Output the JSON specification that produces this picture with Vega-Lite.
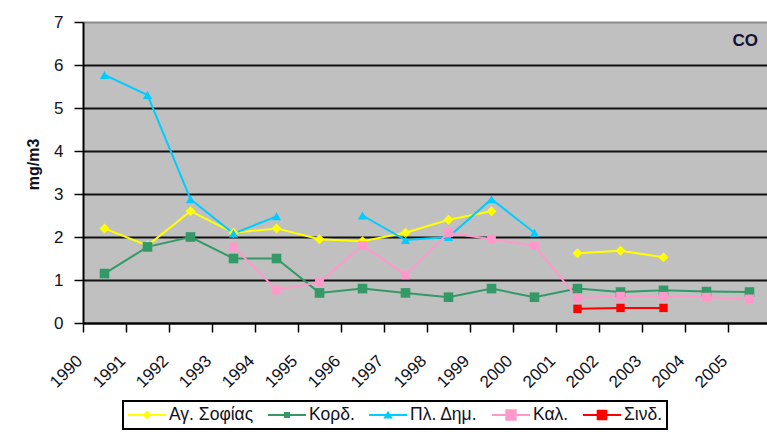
{
  "$schema": "https://vega.github.io/schema/vega-lite/v6.json",
  "width": 688,
  "height": 301,
  "autosize": {"type": "none"},
  "padding": {"left": 83, "top": 22, "right": 0, "bottom": 110},
  "background": "#ffffff",
  "title": {
    "text": "CO",
    "anchor": "end",
    "frame": "group",
    "orient": "top",
    "offset": -37,
    "dx": -13,
    "font": "Liberation Sans",
    "fontSize": 17,
    "fontWeight": "bold",
    "color": "#111133"
  },
  "data": {
    "values": [
      {"year": "1990", "station": "Αγ. Σοφίας", "v": 2.2},
      {"year": "1991", "station": "Αγ. Σοφίας", "v": 1.8},
      {"year": "1992", "station": "Αγ. Σοφίας", "v": 2.6},
      {"year": "1993", "station": "Αγ. Σοφίας", "v": 2.1},
      {"year": "1994", "station": "Αγ. Σοφίας", "v": 2.2},
      {"year": "1995", "station": "Αγ. Σοφίας", "v": 1.95},
      {"year": "1996", "station": "Αγ. Σοφίας", "v": 1.9},
      {"year": "1997", "station": "Αγ. Σοφίας", "v": 2.1},
      {"year": "1998", "station": "Αγ. Σοφίας", "v": 2.4},
      {"year": "1999", "station": "Αγ. Σοφίας", "v": 2.6},
      {"year": "2000", "station": "Αγ. Σοφίας", "v": null},
      {"year": "2001", "station": "Αγ. Σοφίας", "v": 1.62},
      {"year": "2002", "station": "Αγ. Σοφίας", "v": 1.68},
      {"year": "2003", "station": "Αγ. Σοφίας", "v": 1.53},
      {"year": "1990", "station": "Κορδ.", "v": 1.15},
      {"year": "1991", "station": "Κορδ.", "v": 1.77},
      {"year": "1992", "station": "Κορδ.", "v": 2.0},
      {"year": "1993", "station": "Κορδ.", "v": 1.5},
      {"year": "1994", "station": "Κορδ.", "v": 1.5},
      {"year": "1995", "station": "Κορδ.", "v": 0.7},
      {"year": "1996", "station": "Κορδ.", "v": 0.8},
      {"year": "1997", "station": "Κορδ.", "v": 0.7},
      {"year": "1998", "station": "Κορδ.", "v": 0.6},
      {"year": "1999", "station": "Κορδ.", "v": 0.8},
      {"year": "2000", "station": "Κορδ.", "v": 0.6},
      {"year": "2001", "station": "Κορδ.", "v": 0.8},
      {"year": "2002", "station": "Κορδ.", "v": 0.72},
      {"year": "2003", "station": "Κορδ.", "v": 0.76},
      {"year": "2004", "station": "Κορδ.", "v": 0.73},
      {"year": "2005", "station": "Κορδ.", "v": 0.72},
      {"year": "1990", "station": "Πλ. Δημ.", "v": 5.77},
      {"year": "1991", "station": "Πλ. Δημ.", "v": 5.3},
      {"year": "1992", "station": "Πλ. Δημ.", "v": 2.88},
      {"year": "1993", "station": "Πλ. Δημ.", "v": 2.08},
      {"year": "1994", "station": "Πλ. Δημ.", "v": 2.48},
      {"year": "1995", "station": "Πλ. Δημ.", "v": null},
      {"year": "1996", "station": "Πλ. Δημ.", "v": 2.5},
      {"year": "1997", "station": "Πλ. Δημ.", "v": 1.93},
      {"year": "1998", "station": "Πλ. Δημ.", "v": 2.0},
      {"year": "1999", "station": "Πλ. Δημ.", "v": 2.88},
      {"year": "2000", "station": "Πλ. Δημ.", "v": 2.1},
      {"year": "1993", "station": "Καλ.", "v": 1.77},
      {"year": "1994", "station": "Καλ.", "v": 0.77},
      {"year": "1995", "station": "Καλ.", "v": 0.95},
      {"year": "1996", "station": "Καλ.", "v": 1.8},
      {"year": "1997", "station": "Καλ.", "v": 1.12},
      {"year": "1998", "station": "Καλ.", "v": 2.1},
      {"year": "1999", "station": "Καλ.", "v": 1.95},
      {"year": "2000", "station": "Καλ.", "v": 1.8},
      {"year": "2001", "station": "Καλ.", "v": 0.58},
      {"year": "2002", "station": "Καλ.", "v": 0.62},
      {"year": "2003", "station": "Καλ.", "v": 0.62},
      {"year": "2004", "station": "Καλ.", "v": 0.6},
      {"year": "2005", "station": "Καλ.", "v": 0.56},
      {"year": "2001", "station": "Σινδ.", "v": 0.33},
      {"year": "2002", "station": "Σινδ.", "v": 0.35},
      {"year": "2003", "station": "Σινδ.", "v": 0.35}
    ]
  },
  "encoding": {
    "x": {
      "field": "year",
      "type": "ordinal",
      "bandPosition": 0.5,
      "scale": {"type": "band", "paddingInner": 0, "paddingOuter": 0},
      "axis": {
        "title": null,
        "labelAngle": -45,
        "labelAlign": "right",
        "labelBaseline": "middle",
        "labelOffset": -25,
        "labelPadding": 26,
        "labelFont": "Liberation Sans",
        "labelFontSize": 17,
        "labelColor": "#111122",
        "tickBand": "extent",
        "tickColor": "#000000",
        "tickWidth": 1.5,
        "tickSize": 9,
        "domainColor": "#000000",
        "domainWidth": 2,
        "grid": false
      }
    },
    "y": {
      "field": "v",
      "type": "quantitative",
      "scale": {"domain": [0, 7], "nice": false},
      "axis": {
        "title": "mg/m3",
        "titleFont": "Liberation Sans",
        "titleFontSize": 16,
        "titleFontWeight": "bold",
        "titleColor": "#111122",
        "titlePadding": 12,
        "titleY": 142,
        "values": [0, 1, 2, 3, 4, 5, 6, 7],
        "labelFont": "Liberation Sans",
        "labelFontSize": 17,
        "labelColor": "#111122",
        "labelPadding": 11,
        "tickColor": "#000000",
        "tickWidth": 1.5,
        "tickSize": 9,
        "domainColor": "#000000",
        "domainWidth": 2,
        "grid": true,
        "gridColor": {"condition": {"test": "datum.value === 7", "value": "#8a8a8a"}, "value": "#111111"},
        "gridWidth": 2
      }
    }
  },
  "layer": [
    {
      "mark": {"type": "line", "strokeWidth": 2, "invalid": "break-paths-filter-domains"},
      "encoding": {
        "color": {
          "field": "station",
          "type": "nominal",
          "scale": {
            "domain": ["Αγ. Σοφίας", "Κορδ.", "Πλ. Δημ.", "Καλ.", "Σινδ."],
            "range": ["#ffff00", "#339966", "#00ccff", "#ff99cc", "#ff0000"]
          },
          "legend": null
        }
      }
    },
    {
      "mark": {"type": "point", "filled": true, "opacity": 1},
      "encoding": {
        "color": {
          "field": "station",
          "type": "nominal",
          "scale": {
            "domain": ["Αγ. Σοφίας", "Κορδ.", "Πλ. Δημ.", "Καλ.", "Σινδ."],
            "range": ["#ffff00", "#339966", "#00ccff", "#ff99cc", "#ff0000"]
          },
          "legend": null
        },
        "shape": {
          "field": "station",
          "type": "nominal",
          "scale": {
            "domain": ["Αγ. Σοφίας", "Κορδ.", "Πλ. Δημ.", "Καλ.", "Σινδ."],
            "range": ["diamond", "square", "triangle-up", "square", "square"]
          },
          "legend": null
        },
        "size": {
          "field": "station",
          "type": "nominal",
          "scale": {
            "domain": ["Αγ. Σοφίας", "Κορδ.", "Πλ. Δημ.", "Καλ.", "Σινδ."],
            "range": [100, 70, 100, 200, 180]
          },
          "legend": null
        }
      }
    },
    {
      "transform": [{"filter": "false"}],
      "mark": {"type": "point", "filled": true, "opacity": 1},
      "encoding": {
        "color": {
          "field": "station",
          "type": "nominal",
          "scale": {
            "domain": ["Αγ. Σοφίας", "Κορδ.", "Πλ. Δημ.", "Καλ.", "Σινδ."],
            "range": ["#ffff00", "#339966", "#00ccff", "#ff99cc", "#ff0000"]
          },
          "legend": {
            "title": null,
            "orient": "none",
            "legendX": 40,
            "legendY": 379,
            "direction": "horizontal",
            "symbolSize": 1444,
            "symbolOpacity": 1,
            "clipHeight": 20,
            "labelFont": "Liberation Sans",
            "labelFontSize": 17.5,
            "labelColor": "#111122",
            "labelOffset": 2,
            "columnPadding": 13,
            "padding": 4,
            "strokeColor": "#000000"
          }
        },
        "shape": {
          "field": "station",
          "type": "nominal",
          "scale": {
            "domain": ["Αγ. Σοφίας", "Κορδ.", "Πλ. Δημ.", "Καλ.", "Σινδ."],
            "range": [
              "M-1,-0.05H1V0.05H-1Z M0,-0.24L0.22,0L0,0.24L-0.22,0Z",
              "M-1,-0.05H1V0.05H-1Z M-0.16,-0.16H0.16V0.16H-0.16Z",
              "M-1,-0.05H1V0.05H-1Z M0,-0.22L0.25,0.18H-0.25Z",
              "M-1,-0.05H1V0.05H-1Z M-0.3,-0.3H0.3V0.3H-0.3Z",
              "M-1,-0.05H1V0.05H-1Z M-0.28,-0.28H0.28V0.28H-0.28Z"
            ]
          },
          "legend": {
            "title": null,
            "orient": "none",
            "legendX": 40,
            "legendY": 379,
            "direction": "horizontal",
            "symbolSize": 1444,
            "symbolOpacity": 1,
            "clipHeight": 20,
            "labelFont": "Liberation Sans",
            "labelFontSize": 17.5,
            "labelColor": "#111122",
            "labelOffset": 2,
            "columnPadding": 13,
            "padding": 4,
            "strokeColor": "#000000"
          }
        }
      }
    }
  ],
  "resolve": {"scale": {"color": "independent", "shape": "independent", "size": "independent"}},
  "config": {
    "view": {"fill": "#c0c0c0", "stroke": "#8a8a8a", "strokeWidth": 1},
    "legend": {"strokeWidth": 2}
  }
}
